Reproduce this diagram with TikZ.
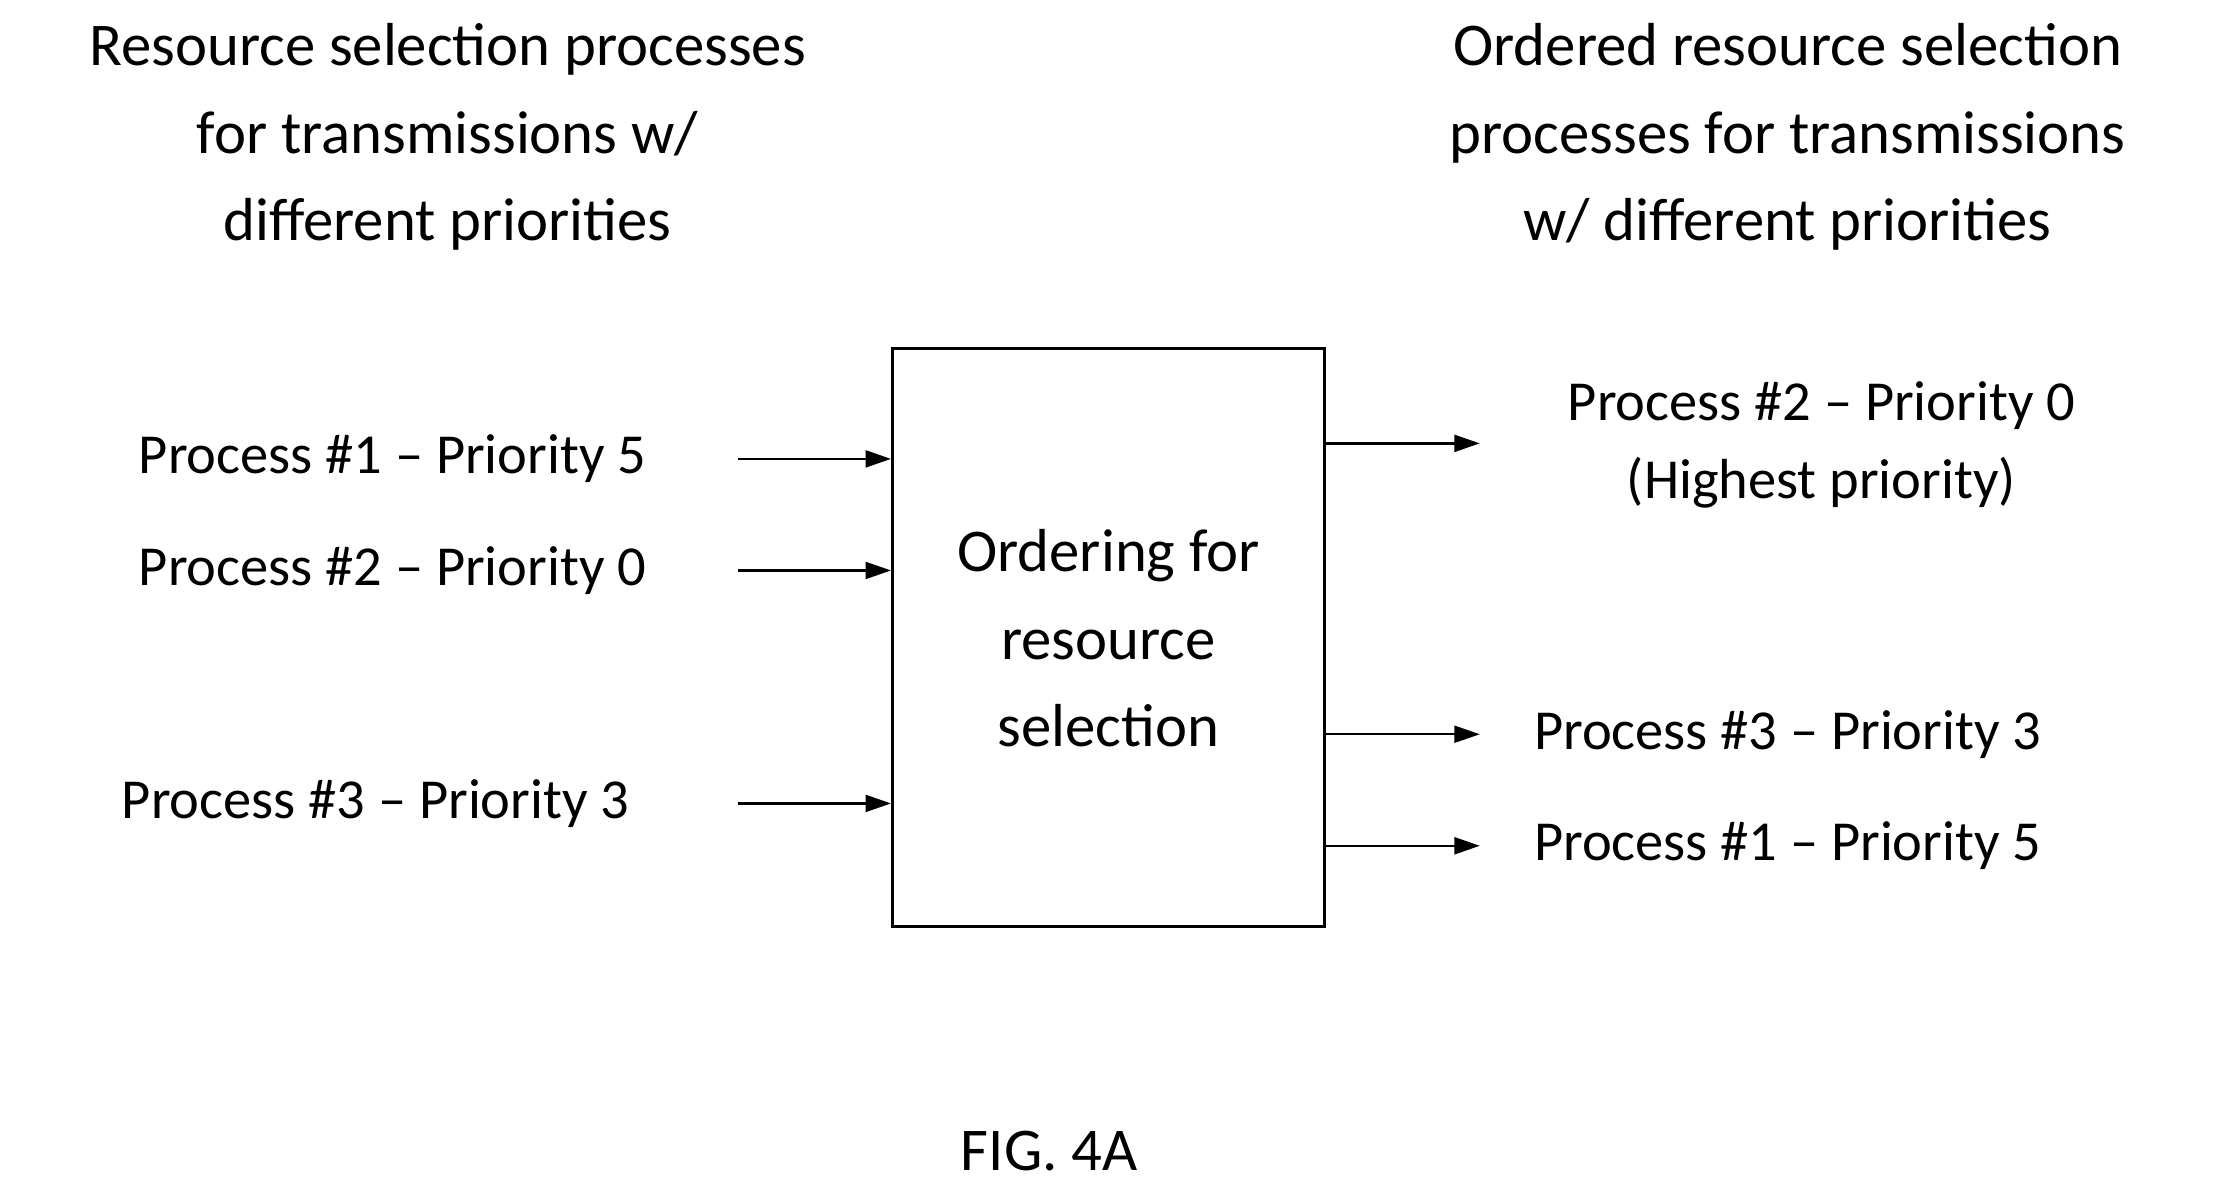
\documentclass[tikz,border=0pt]{standalone}
\usepackage{fontspec}
\setmainfont{Carlito}
\usetikzlibrary{arrows.meta}
\begin{document}
\begin{tikzpicture}[x=0.5pt,y=-0.5pt,
  lbl/.style={font=\fontsize{20}{27}\selectfont, inner sep=0},
  ttl/.style={font=\fontsize{21.5}{31}\selectfont, align=center, inner sep=0},
  arr/.style={-{Triangle[length=9pt,width=6pt]}, line width=0.8pt}]
\useasboundingbox (0,0) rectangle (1568,846);
\node[draw, line width=1pt, minimum width=153pt, minimum height=204.5pt, inner sep=0] (box) at (785,451.5) {};
\node[ttl, align=center] (bt) at (785,452) {Ordering for\\resource\\selection};
\node[ttl] (t1) at (317,97) {Resource selection processes\\for transmissions w/\\different priorities};
\node[ttl] (t2) at (1266,97) {Ordered resource selection\\processes for transmissions\\w/ different priorities};
\node[lbl] (l1) at (278,325) {Process \#1 – Priority 5};
\node[lbl] (l2) at (278,404) {Process \#2 – Priority 0};
\node[lbl] (l3) at (266,569) {Process \#3 – Priority 3};
\coordinate (a1) at (523,325); \coordinate (a2) at (523,404); \coordinate (a3) at (523,569);
\draw[arr] (a1) -- (box.west |- a1);
\draw[arr] (a2) -- (box.west |- a2);
\draw[arr] (a3) -- (box.west |- a3);
\coordinate (b1) at (1048,314); \coordinate (b2) at (1048,520); \coordinate (b3) at (1048,599);
\draw[arr] (box.east |- b1) -- (b1);
\draw[arr] (box.east |- b2) -- (b2);
\draw[arr] (box.east |- b3) -- (b3);
\node[lbl, align=center, font=\fontsize{20}{27.5}\selectfont] (r1) at (1290,315) {Process \#2 – Priority 0\\(Highest priority)};
\node[lbl, anchor=west] (r2) at (1086,520) {Process \#3 – Priority 3};
\node[lbl, anchor=west] (r3) at (1086,599) {Process \#1 – Priority 5};
\node[ttl] (fig) at (743,815) {FIG. 4A};
\end{tikzpicture}
\end{document}
